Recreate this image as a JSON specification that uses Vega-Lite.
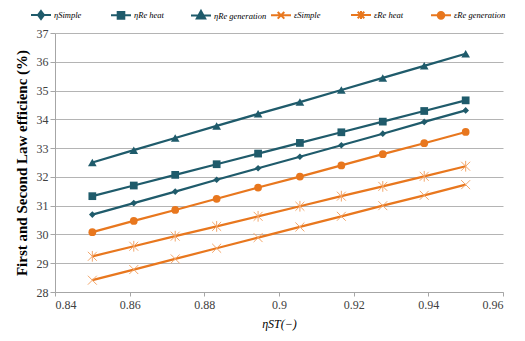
{
  "$schema": "https://vega.github.io/schema/vega-lite/v6.json",
  "width": 448,
  "height": 259,
  "autosize": {"type": "none"},
  "padding": {"left": 55, "top": 33, "right": 22, "bottom": 49},
  "background": "white",
  "config": {
    "view": {"stroke": null},
    "font": "Liberation Serif",
    "axis": {"labelFont": "Liberation Serif", "titleFont": "Liberation Serif", "labelColor": "#404040", "titleColor": "#000000", "domainColor": "#a6a6a6", "tickColor": "#a6a6a6", "gridColor": "#b4b4b4"},
    "legend": {"labelFont": "Liberation Serif"}
  },
  "data": {"values": [
    {"x": 0.85, "s": "η Simple", "y": 30.69}, {"x": 0.8611, "s": "η Simple", "y": 31.09}, {"x": 0.8722, "s": "η Simple", "y": 31.49}, {"x": 0.8833, "s": "η Simple", "y": 31.90}, {"x": 0.8944, "s": "η Simple", "y": 32.30}, {"x": 0.9056, "s": "η Simple", "y": 32.70}, {"x": 0.9167, "s": "η Simple", "y": 33.10}, {"x": 0.9278, "s": "η Simple", "y": 33.50}, {"x": 0.9389, "s": "η Simple", "y": 33.91}, {"x": 0.95, "s": "η Simple", "y": 34.31},
    {"x": 0.85, "s": "η Re heat", "y": 31.33}, {"x": 0.8611, "s": "η Re heat", "y": 31.70}, {"x": 0.8722, "s": "η Re heat", "y": 32.07}, {"x": 0.8833, "s": "η Re heat", "y": 32.44}, {"x": 0.8944, "s": "η Re heat", "y": 32.81}, {"x": 0.9056, "s": "η Re heat", "y": 33.18}, {"x": 0.9167, "s": "η Re heat", "y": 33.55}, {"x": 0.9278, "s": "η Re heat", "y": 33.92}, {"x": 0.9389, "s": "η Re heat", "y": 34.29}, {"x": 0.95, "s": "η Re heat", "y": 34.66},
    {"x": 0.85, "s": "η Re generation", "y": 32.50}, {"x": 0.8611, "s": "η Re generation", "y": 32.93}, {"x": 0.8722, "s": "η Re generation", "y": 33.35}, {"x": 0.8833, "s": "η Re generation", "y": 33.77}, {"x": 0.8944, "s": "η Re generation", "y": 34.19}, {"x": 0.9056, "s": "η Re generation", "y": 34.60}, {"x": 0.9167, "s": "η Re generation", "y": 35.02}, {"x": 0.9278, "s": "η Re generation", "y": 35.44}, {"x": 0.9389, "s": "η Re generation", "y": 35.86}, {"x": 0.95, "s": "η Re generation", "y": 36.28},
    {"x": 0.85, "s": "ε Simple", "y": 28.41}, {"x": 0.8611, "s": "ε Simple", "y": 28.78}, {"x": 0.8722, "s": "ε Simple", "y": 29.15}, {"x": 0.8833, "s": "ε Simple", "y": 29.52}, {"x": 0.8944, "s": "ε Simple", "y": 29.89}, {"x": 0.9056, "s": "ε Simple", "y": 30.26}, {"x": 0.9167, "s": "ε Simple", "y": 30.63}, {"x": 0.9278, "s": "ε Simple", "y": 31.00}, {"x": 0.9389, "s": "ε Simple", "y": 31.36}, {"x": 0.95, "s": "ε Simple", "y": 31.73},
    {"x": 0.85, "s": "ε Re heat", "y": 29.24}, {"x": 0.8611, "s": "ε Re heat", "y": 29.59}, {"x": 0.8722, "s": "ε Re heat", "y": 29.94}, {"x": 0.8833, "s": "ε Re heat", "y": 30.28}, {"x": 0.8944, "s": "ε Re heat", "y": 30.63}, {"x": 0.9056, "s": "ε Re heat", "y": 30.98}, {"x": 0.9167, "s": "ε Re heat", "y": 31.33}, {"x": 0.9278, "s": "ε Re heat", "y": 31.67}, {"x": 0.9389, "s": "ε Re heat", "y": 32.02}, {"x": 0.95, "s": "ε Re heat", "y": 32.37},
    {"x": 0.85, "s": "ε Re generation", "y": 30.08}, {"x": 0.8611, "s": "ε Re generation", "y": 30.47}, {"x": 0.8722, "s": "ε Re generation", "y": 30.85}, {"x": 0.8833, "s": "ε Re generation", "y": 31.24}, {"x": 0.8944, "s": "ε Re generation", "y": 31.63}, {"x": 0.9056, "s": "ε Re generation", "y": 32.01}, {"x": 0.9167, "s": "ε Re generation", "y": 32.40}, {"x": 0.9278, "s": "ε Re generation", "y": 32.79}, {"x": 0.9389, "s": "ε Re generation", "y": 33.17}, {"x": 0.95, "s": "ε Re generation", "y": 33.56}
  ]},
  "encoding": {
    "x": {"field": "x", "type": "quantitative", "scale": {"domain": [0.84, 0.96], "nice": false, "zero": false},
      "axis": {"values": [0.84, 0.86, 0.88, 0.9, 0.92, 0.94, 0.96], "format": ".2~f", "grid": false, "labelFont": "Liberation Serif", "labelFontSize": 12, "tickSize": 4, "labelPadding": 3, "title": "ηST(−)", "titleFont": "Liberation Serif", "titleFontSize": 12, "titleFontWeight": "normal", "titleFontStyle": "italic", "titlePadding": 8}},
    "y": {"field": "y", "type": "quantitative", "scale": {"domain": [28, 37], "nice": false, "zero": false},
      "axis": {"values": [28, 29, 30, 31, 32, 33, 34, 35, 36, 37], "format": "d", "grid": true, "labelFont": "Liberation Serif", "labelFontSize": 12, "tickSize": 5, "labelPadding": 2, "title": "First and Second Law efficienc (%)", "titleFont": "Liberation Serif", "titleFontSize": 15, "titleFontWeight": "bold", "titlePadding": 7}}
  },
  "layer": [
    {
      "mark": {"type": "line", "strokeWidth": 2.25},
      "encoding": {
        "color": {"field": "s", "type": "nominal",
          "scale": {"domain": ["η Simple", "η Re heat", "η Re generation", "ε Simple", "ε Re heat", "ε Re generation"], "range": ["#1F5B6B", "#1F5B6B", "#1F5B6B", "#E8771E", "#E8771E", "#E8771E"]},
          "legend": {"title": null, "orient": "none", "legendX": -25, "legendY": -29, "direction": "horizontal", "columns": 6, "gridAlign": "all", "columnPadding": 0,
            "symbolSize": 400, "symbolStrokeWidth": 2, "labelFont": "Liberation Serif", "labelFontStyle": "italic", "labelFontSize": 8.5, "labelColor": "#000000", "labelOffset": 2, "labelLimit": 80,
            "labelExpr": "replace(datum.label, ' ', '')",
            "encode": {"symbols": {"update": {
              "size": {"value": 400},
              "strokeWidth": {"value": 2},
              "shape": {"signal": "datum.value == 'η Simple' ? 'M-1,0L1,0M0,-0.4L0.3,0L0,0.4L-0.3,0Z' : datum.value == 'η Re heat' ? 'M-1,0L1,0M-0.33,-0.33L0.33,-0.33L0.33,0.33L-0.33,0.33Z' : datum.value == 'η Re generation' ? 'M-1,0L1,0M0,-0.46L0.42,0.3L-0.42,0.3Z' : datum.value == 'ε Simple' ? 'M-1,0L1,0M-0.33,-0.33L0.33,0.33M-0.33,0.33L0.33,-0.33' : datum.value == 'ε Re heat' ? 'M-1,0L1,0M-0.33,-0.33L0.33,0.33M-0.33,0.33L0.33,-0.33M0,-0.4L0,0.4' : 'M-1,0L1,0M-0.33,0A0.33,0.33 0 1,0 0.33,0A0.33,0.33 0 1,0 -0.33,0Z'"},
              "fill": {"signal": "indexof(datum.value, 'η') >= 0 ? '#1F5B6B' : datum.value == 'ε Re generation' ? '#E8771E' : 'transparent'"}
            }}}}}
      }
    },
    {
      "transform": [{"filter": {"field": "s", "equal": "η Simple"}}],
      "mark": {"type": "point", "shape": "diamond", "filled": true, "size": 45, "color": "#1F5B6B", "opacity": 1}
    },
    {
      "transform": [{"filter": {"field": "s", "equal": "η Re heat"}}],
      "mark": {"type": "point", "shape": "square", "filled": true, "size": 60, "color": "#1F5B6B", "opacity": 1}
    },
    {
      "transform": [{"filter": {"field": "s", "equal": "η Re generation"}}],
      "mark": {"type": "point", "shape": "triangle-up", "filled": true, "size": 75, "color": "#1F5B6B", "opacity": 1}
    },
    {
      "transform": [{"filter": {"field": "s", "equal": "ε Simple"}}],
      "mark": {"type": "point", "shape": "M-1,-1L1,1M-1,1L1,-1", "filled": false, "size": 80, "color": "#F3A66A", "strokeWidth": 1, "opacity": 1}
    },
    {
      "transform": [{"filter": {"field": "s", "equal": "ε Re heat"}}],
      "mark": {"type": "point", "shape": "M-1,-1L1,1M-1,1L1,-1M0,-1.2L0,1.2", "filled": false, "size": 80, "color": "#F3A66A", "strokeWidth": 1, "opacity": 1}
    },
    {
      "transform": [{"filter": {"field": "s", "equal": "ε Re generation"}}],
      "mark": {"type": "point", "shape": "circle", "filled": true, "size": 60, "color": "#E8771E", "opacity": 1}
    }
  ]
}
